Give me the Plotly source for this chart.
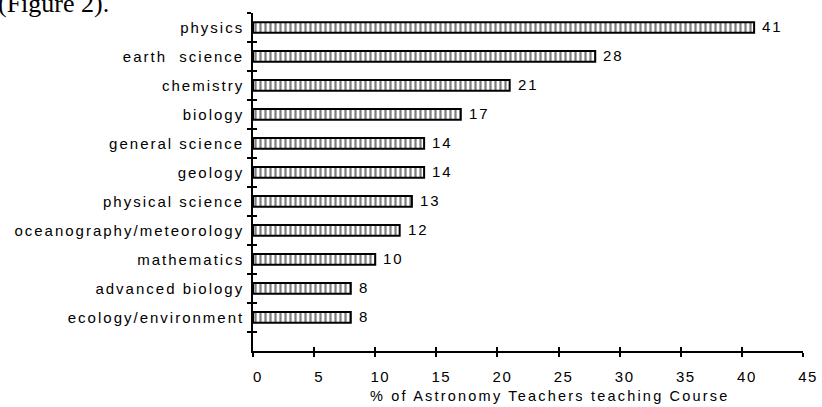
import plotly.graph_objects as go

categories = ["physics", "earth  science", "chemistry", "biology", "general science",
              "geology", "physical science", "oceanography/meteorology", "mathematics",
              "advanced biology", "ecology/environment"]
values = [41, 28, 21, 17, 14, 14, 13, 12, 10, 8, 8]
x_ticks = [0, 5, 10, 15, 20, 25, 30, 35, 40, 45]
x_title = "% of Astronomy Teachers teaching Course"
fig_caption = "(Figure 2)."

W, H = 822, 407
L, R, T, B = 253, 19, 13, 56
PW, PH = W - L - R, H - T - B
FONT = "Liberation Sans"


def spaced(s, px):
    return '<span style="letter-spacing:%spx">%s</span>' % (px, s)


pos = list(range(len(categories)))
bounds = [p - 0.5 for p in pos] + [len(pos) - 0.5]
yr = [len(pos) - 0.5 + 0.66, -0.5]

fig = go.Figure()
fig.add_trace(go.Bar(
    x=values, y=pos, orientation="h", width=0.37,
    marker=dict(color="white", line=dict(color="black", width=2),
                pattern=dict(shape="|", fgcolor="black", bgcolor="white",
                             size=5, solidity=0.45)),
    showlegend=False, hoverinfo="skip",
))

for v, p in zip(values, pos):
    fig.add_annotation(x=v, y=p, text=spaced(str(v), 2), showarrow=False, xanchor="left",
                       xshift=6, yshift=1, font=dict(family=FONT, size=15, color="black"))

axis_common = dict(showgrid=False, zeroline=False, showline=True, automargin=False,
                   linecolor="black", linewidth=1.6, tickcolor="black", tickwidth=1.6)

fig.update_layout(
    width=W, height=H, margin=dict(l=L, r=R, t=T, b=B, autoexpand=False),
    paper_bgcolor="white", plot_bgcolor="white",
    xaxis=dict(range=[0, 45], tickvals=x_ticks, ticktext=[spaced(str(t), 1.5) for t in x_ticks],
               ticks="outside", ticklen=4, ticklabelstandoff=7, ticklabelshift=5,
               tickfont=dict(family=FONT, size=15, color="black"),
               **axis_common),
    xaxis2=dict(range=[0, 45], overlaying="x", tickvals=x_ticks, ticks="inside",
                ticklen=4, showticklabels=False, anchor="y", **axis_common),
    yaxis=dict(range=yr, tickvals=pos, ticktext=[spaced(c, 2.0) for c in categories], ticks="",
               tickfont=dict(family=FONT, size=15, color="black"), ticklabelstandoff=4,
               **axis_common),
    yaxis2=dict(range=yr, overlaying="y", tickvals=bounds, ticks="outside",
                ticklen=4, showticklabels=False, anchor="x", **axis_common),
    yaxis3=dict(range=yr, overlaying="y", tickvals=bounds, ticks="inside",
                ticklen=4, showticklabels=False, anchor="x", **axis_common),
)
fig.add_trace(go.Scatter(x=[None], y=[None], xaxis="x2", yaxis="y2", showlegend=False))
fig.add_trace(go.Scatter(x=[None], y=[None], xaxis="x2", yaxis="y3", showlegend=False))

# axis title (slightly right of centre, as in the original)
fig.add_annotation(xref="paper", yref="paper", x=(550 - L) / PW, y=-(396 - T - PH) / PH,
                   xanchor="center", yanchor="middle", text=spaced(x_title, 2.2),
                   showarrow=False, font=dict(family=FONT, size=14.5, color="black"))

fig.add_annotation(xref="paper", yref="paper", x=-(L + 4) / PW, y=1 + (T - 4) / PH,
                   xanchor="left", yanchor="middle", text=fig_caption, showarrow=False,
                   font=dict(family="Liberation Serif", size=26, color="black"))

fig.write_html("out.html", config={"displayModeBar": False},
               post_script="document.body.style.margin='0';")
